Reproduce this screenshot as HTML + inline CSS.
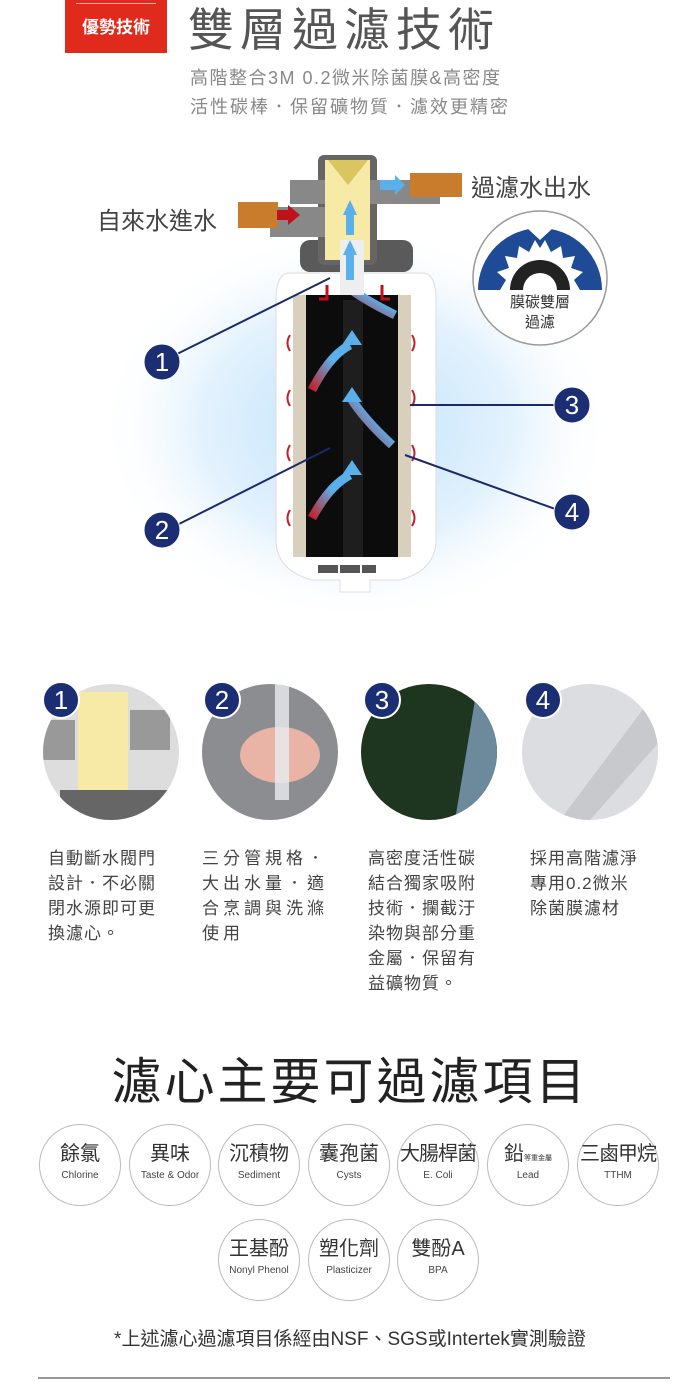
<!DOCTYPE html>
<html><head><meta charset="utf-8"><style>
*{margin:0;padding:0;box-sizing:border-box}
body{width:700px;height:1400px;background:#fff;position:relative;overflow:hidden;font-family:"Liberation Sans","Noto Sans CJK TC",sans-serif;color:#444}
.a{position:absolute;white-space:nowrap}
.p{position:absolute;font-size:17px;line-height:25px;color:#444;letter-spacing:1px}
.c{position:absolute;width:82px;height:82px;border:1px solid #bbb;border-radius:50%;text-align:center}
.c b{display:block;font-weight:normal;font-size:20px;color:#333;margin-top:17px;line-height:24px;height:24px;white-space:nowrap}
.c i{display:block;font-style:normal;font-size:10px;color:#444;margin-top:4px}
</style></head><body>
<div class="a" style="left:65px;top:0;width:102px;height:53px;background:#e02a1c;"></div>
<div class="a" style="left:76px;top:3px;width:80px;height:1px;background:#f6b0a8"></div>
<div class="a" style="left:65px;top:13px;width:102px;text-align:center;color:#fff;font-size:17px;font-weight:bold">優勢技術</div>
<div class="a" style="left:188px;top:-6px;font-size:46px;color:#555;letter-spacing:6px">雙層過濾技術</div>
<div class="a" style="left:190px;top:64px;font-size:18px;color:#888;letter-spacing:1.5px">高階整合3M 0.2微米除菌膜&amp;高密度</div>
<div class="a" style="left:190px;top:93px;font-size:18px;color:#888;letter-spacing:2px">活性碳棒．保留礦物質．濾效更精密</div>

<svg class="a" style="left:0;top:140px" width="700" height="500">
<defs>
<radialGradient id="g" cx="0.5" cy="0.5" r="0.5"><stop offset="0" stop-color="#bfe2fb"/><stop offset="0.6" stop-color="#e3f2fd"/><stop offset="1" stop-color="#fff" stop-opacity="0"/></radialGradient>
<linearGradient id="ar" x1="0" y1="1" x2="1" y2="0"><stop offset="0" stop-color="#c0202a"/><stop offset="0.6" stop-color="#5ab0ea"/></linearGradient>
</defs>
<ellipse cx="356" cy="285" rx="260" ry="200" fill="url(#g)"/>
<path d="M290 133 H422 Q436 133 436 160 V400 Q436 430 400 440 H370 V452 H340 V440 H312 Q276 430 276 400 V160 Q276 133 290 133Z" fill="#fff" stroke="#ddd"/>
<rect x="293" y="155" width="118" height="262" fill="#d8d0bc"/>
<rect x="306" y="155" width="92" height="262" fill="#0c0c0c"/>
<rect x="343" y="160" width="20" height="257" fill="#1e1e1e"/>
<rect x="292" y="417" width="120" height="4" fill="#fff"/>
<rect x="318" y="425" width="20" height="8" fill="#555"/><rect x="340" y="425" width="20" height="8" fill="#555"/><rect x="362" y="425" width="14" height="8" fill="#555"/>
<g fill="none" stroke="url(#ar)" stroke-width="9">
<path d="M312 250 Q330 215 350 205"/><path d="M392 305 Q365 280 352 260"/><path d="M312 378 Q330 345 350 335"/><path d="M395 175 Q365 160 352 150"/>
</g>
<g fill="#5ab0ea"><path d="M342 205 L352 190 L362 205Z"/><path d="M342 262 L352 247 L362 262Z"/><path d="M342 335 L352 320 L362 335Z"/></g>
<g fill="none" stroke="#c0202a" stroke-width="2"><path d="M290 195 q-5 8 0 16"/><path d="M290 250 q-5 8 0 16"/><path d="M290 305 q-5 8 0 16"/><path d="M290 370 q-5 8 0 16"/><path d="M412 195 q5 8 0 16"/><path d="M412 250 q5 8 0 16"/><path d="M412 305 q5 8 0 16"/><path d="M412 370 q5 8 0 16"/></g>
<rect x="300" y="100" width="113" height="32" rx="10" fill="#5a5a5a"/>
<rect x="318" y="15" width="59" height="110" rx="6" fill="#666"/>
<rect x="290" y="40" width="150" height="24" fill="#888"/><rect x="270" y="67" width="60" height="30" fill="#888"/>
<rect x="325" y="20" width="45" height="100" fill="#f7e9a6"/>
<path d="M328 20 H368 L348 45Z" fill="#d9c660"/>
<rect x="410" y="33" width="52" height="24" fill="#c97c2c"/><rect x="238" y="62" width="40" height="26" fill="#c97c2c"/>
<path d="M277 70 H288 V65 L300 75 L288 85 V80 H277Z" fill="#c0101a"/>
<path d="M380 40 H395 V35 L405 45 L395 55 V50 H380Z" fill="#5ab0ea"/>
<rect x="340" y="100" width="24" height="55" fill="#eee"/>
<path d="M343 75 L350 60 L357 75Z M346 75 h8 v20 h-8Z M343 115 L350 100 L357 115Z M346 115 h8 v25 h-8Z" fill="#5ab0ea"/>
<path d="M327 145 v14 h-8 M382 145 v14 h8" stroke="#c0101a" stroke-width="3" fill="none"/>
<g stroke="#1b2a6b" stroke-width="2"><line x1="175" y1="215" x2="330" y2="138"/><line x1="175" y1="386" x2="330" y2="308"/><line x1="410" y1="265" x2="558" y2="265"/><line x1="405" y1="315" x2="558" y2="370"/></g>
<g fill="#1b2d73" stroke="#fff" stroke-width="1"><circle cx="162" cy="222" r="18"/><circle cx="162" cy="390" r="18"/><circle cx="572" cy="265" r="18"/><circle cx="572" cy="372" r="18"/></g>
<g fill="#fff" font-size="26" text-anchor="middle" font-family="Liberation Sans,sans-serif"><text x="162" y="231">1</text><text x="162" y="399">2</text><text x="572" y="274">3</text><text x="572" y="381">4</text></g>
<circle cx="540" cy="138" r="67" fill="#fff" stroke="#999" stroke-width="1.5"/>
<path d="M478 150 A62 62 0 0 1 602 150Z" fill="#1f4a96"/>
<path d="M500 150 L506 140 L497 132 L509 128 L505 116 L517 118 L519 106 L529 112 L535 100 L540 108 L545 100 L551 112 L561 106 L563 118 L575 116 L571 128 L583 132 L574 140 L580 150Z" fill="#fff"/>
<path d="M510 150 A30 30 0 0 1 570 150 H557 A17 17 0 0 0 523 150Z" fill="#222"/>
<path d="M533 78 h14 v10 h6 l-13 12 l-13 -12 h6z" fill="#fff"/>
</svg>
<div class="a" style="left:97px;top:201px;font-size:24px;color:#444">自來水進水</div>
<div class="a" style="left:471px;top:168px;font-size:24px;color:#444">過濾水出水</div>
<div class="a" style="left:500px;top:293px;width:80px;text-align:center;font-size:15px;line-height:20px;color:#333">膜碳雙層<br>過濾</div>

<svg class="a" style="left:0;top:670px" width="700" height="160">
<defs><clipPath id="k1"><circle cx="111" cy="82" r="68"/></clipPath><clipPath id="k2"><circle cx="270" cy="82" r="68"/></clipPath><clipPath id="k3"><circle cx="429" cy="82" r="68"/></clipPath><clipPath id="k4"><circle cx="590" cy="82" r="68"/></clipPath></defs>
<g clip-path="url(#k1)"><rect x="40" y="10" width="150" height="150" fill="#ddd"/><rect x="78" y="22" width="50" height="120" fill="#f7e9a6"/><rect x="40" y="50" width="35" height="40" fill="#999"/><rect x="130" y="40" width="40" height="40" fill="#999"/><rect x="60" y="120" width="110" height="30" fill="#666"/></g>
<g clip-path="url(#k2)"><rect x="200" y="10" width="150" height="150" fill="#8b8d90"/><ellipse cx="280" cy="85" rx="40" ry="28" fill="#e9b3a6"/><rect x="275" y="10" width="14" height="120" fill="#e8eef3" opacity="0.8"/></g>
<g clip-path="url(#k3)"><rect x="360" y="10" width="150" height="150" fill="#1e3520"/><path d="M475 30 L510 60 L505 150 L455 150Z" fill="#6d8a9c"/></g>
<g clip-path="url(#k4)"><rect x="520" y="10" width="150" height="150" fill="#dcdde0"/><path d="M560 150 L650 30 L670 60 L590 150Z" fill="#c8c9cd"/></g>
<g fill="#1b2d73" stroke="#fff" stroke-width="2"><circle cx="61" cy="30" r="18"/><circle cx="222" cy="30" r="18"/><circle cx="382" cy="30" r="18"/><circle cx="543" cy="30" r="18"/></g>
<g fill="#fff" font-size="26" text-anchor="middle" font-family="Liberation Sans,sans-serif"><text x="61" y="39">1</text><text x="222" y="39">2</text><text x="382" y="39">3</text><text x="543" y="39">4</text></g>
</svg>
<div class="p" style="left:48px;top:846px">自動斷水閥門<br>設計．不必關<br>閉水源即可更<br>換濾心。</div>
<div class="p" style="left:202px;top:846px;letter-spacing:4px">三分管規格．<br>大出水量．適<br>合烹調與洗滌<br>使用</div>
<div class="p" style="left:368px;top:846px">高密度活性碳<br>結合獨家吸附<br>技術．攔截汙<br>染物與部分重<br>金屬．保留有<br>益礦物質。</div>
<div class="p" style="left:530px;top:846px">採用高階濾淨<br>專用0.2微米<br>除菌膜濾材</div>

<div class="a" style="left:0;width:700px;top:1042px;text-align:center;font-size:50px;color:#222;letter-spacing:3px">濾心主要可過濾項目</div>

<div class="c" style="left:39px;top:1124px"><b>餘氯</b><i>Chlorine</i></div>
<div class="c" style="left:129px;top:1124px"><b>異味</b><i>Taste &amp; Odor</i></div>
<div class="c" style="left:218px;top:1124px"><b>沉積物</b><i>Sediment</i></div>
<div class="c" style="left:308px;top:1124px"><b>囊孢菌</b><i>Cysts</i></div>
<div class="c" style="left:397px;top:1124px"><b style="letter-spacing:-1px">大腸桿菌</b><i>E. Coli</i></div>
<div class="c" style="left:487px;top:1124px"><b>鉛<span style="font-size:7px">等重金屬</span></b><i>Lead</i></div>
<div class="c" style="left:577px;top:1124px"><b style="letter-spacing:-1px">三鹵甲烷</b><i>TTHM</i></div>
<div class="c" style="left:218px;top:1219px"><b>王基酚</b><i>Nonyl Phenol</i></div>
<div class="c" style="left:308px;top:1219px"><b>塑化劑</b><i>Plasticizer</i></div>
<div class="c" style="left:397px;top:1219px"><b>雙酚A</b><i>BPA</i></div>

<div class="a" style="left:0;width:700px;top:1324px;text-align:center;font-size:19px;color:#333">*上述濾心過濾項目係經由NSF、SGS或Intertek實測驗證</div>
<div class="a" style="left:38px;top:1377px;width:632px;height:2px;background:#999"></div>
</body></html>
